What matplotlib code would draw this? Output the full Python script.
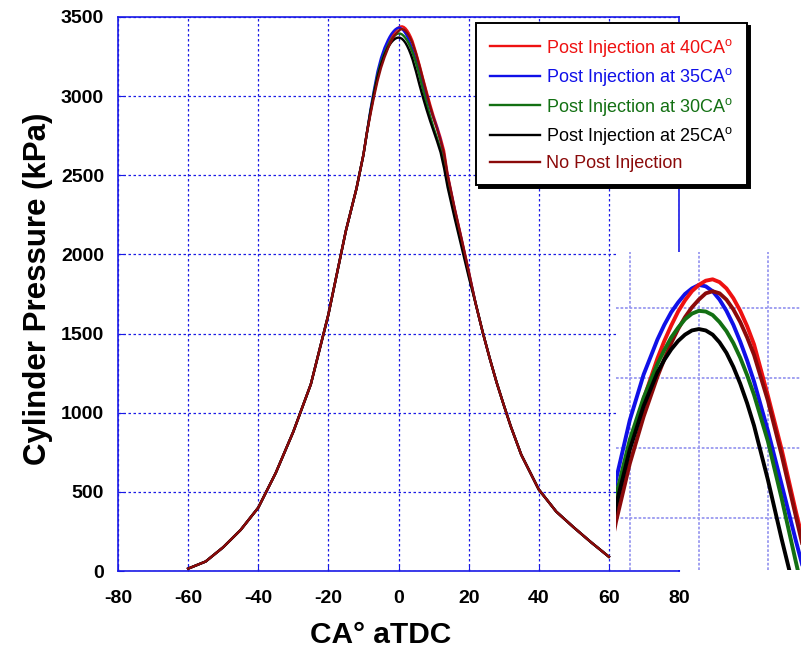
import matplotlib
matplotlib.use("Agg")
import matplotlib.pyplot as plt
import numpy as np

plt.rcParams["font.family"] = ["Liberation Sans", "DejaVu Sans"]
plt.rcParams["mathtext.fontset"] = "custom"
plt.rcParams["mathtext.rm"] = "Liberation Sans"
plt.rcParams["mathtext.it"] = "Liberation Sans"
plt.rcParams["axes.unicode_minus"] = False

# crank angle (deg aTDC) - compression side, common to all runs
ca_rise = [-60, -55, -50, -45, -40, -35, -30, -25, -20, -15, -12, -10, -9]
p_rise = [15, 60, 150, 260, 400, 620, 880, 1180, 1620, 2150, 2415, 2630, 2770]

# around the peak, where the runs separate
ca_peak = [-8, -7, -6, -5, -4, -3, -2.5, -2, -1.5, -1, -0.5, 0, 0.5, 1, 1.5, 2, 2.5, 3, 3.5, 4,
           5, 6, 7, 8, 9, 10, 11, 12, 13, 14, 16, 18, 20]
p_post40 = [2895, 3010, 3115, 3200, 3270, 3328, 3353, 3375, 3395, 3411, 3424, 3433, 3439, 3441,
            3437, 3428, 3414, 3396, 3374, 3348, 3275, 3198, 3112, 3030, 2950, 2875, 2808, 2738,
            2655, 2510, 2295, 2100, 1900]
p_post35 = [2915, 3040, 3155, 3240, 3305, 3355, 3376, 3394, 3408, 3420, 3428, 3433, 3431, 3424,
            3412, 3396, 3376, 3352, 3325, 3295, 3225, 3148, 3070, 2995, 2925, 2862, 2800, 2720,
            2620, 2495, 2285, 2090, 1890]
p_post30 = [2905, 3025, 3132, 3212, 3272, 3320, 3340, 3358, 3372, 3384, 3392, 3396, 3395, 3390,
            3380, 3367, 3350, 3329, 3304, 3276, 3210, 3128, 3040, 2955, 2875, 2800, 2735, 2665,
            2580, 2460, 2260, 2070, 1875]
p_post25 = [2900, 3015, 3118, 3198, 3260, 3308, 3326, 3341, 3353, 3362, 3368, 3370, 3368, 3362,
            3351, 3336, 3316, 3292, 3264, 3232, 3155, 3070, 2990, 2915, 2845, 2780, 2715, 2645,
            2545, 2425, 2230, 2045, 1860]
p_nopost = [2885, 2995, 3095, 3178, 3245, 3302, 3327, 3350, 3370, 3387, 3401, 3412, 3421, 3424,
            3421, 3412, 3398, 3380, 3358, 3333, 3268, 3190, 3105, 3020, 2935, 2860, 2792, 2718,
            2635, 2500, 2290, 2095, 1895]

# expansion side, common to all runs
ca_fall = [22, 24, 26, 28, 30, 32, 35, 40, 45, 50, 55, 60]
p_fall = [1690, 1510, 1345, 1190, 1050, 915, 735, 515, 375, 275, 180, 90]

labels = ["Post Injection at 40CA$^{\\mathrm{o}}$", "Post Injection at 35CA$^{\\mathrm{o}}$",
          "Post Injection at 30CA$^{\\mathrm{o}}$", "Post Injection at 25CA$^{\\mathrm{o}}$",
          "No Post Injection"]
colors = ["#ee1111", "#1010e8", "#137013", "#000000", "#8b0a0a"]
peaks = [p_post40, p_post35, p_post30, p_post25, p_nopost]

ca_all = np.array(ca_rise + ca_peak + ca_fall)
series = [np.array(p_rise + pk + p_fall) for pk in peaks]

fig = plt.figure(figsize=(8.01, 6.58), dpi=100)
ax = fig.add_axes([118 / 801, 1 - 571 / 658, 561 / 801, 554 / 658])

blue = "#1a1ae6"
for i in range(5):
    ax.plot(ca_all, series[i], color=colors[i], lw=1.7, label=labels[i], zorder=3)

ax.set_xlim(-80, 80)
ax.set_ylim(0, 3500)
ax.set_xticks(np.arange(-80, 81, 20))
ax.set_yticks(np.arange(0, 3501, 500))
ax.grid(True, color=blue, linestyle=(0, (2, 2)), lw=0.9)
for s in ax.spines.values():
    s.set_color(blue)
    s.set_linewidth(1.2)
ax.tick_params(direction="in", length=4, color=blue, labelsize=14)
ax.tick_params(axis="x", pad=14)
ax.tick_params(axis="y", pad=10)
for t in ax.get_xticklabels() + ax.get_yticklabels():
    t.set_fontweight("bold")
ax.set_xlabel("CA° aTDC", fontsize=21.5, fontweight="bold")
ax.xaxis.set_label_coords((381 - 118) / 561, -(621 - 571) / 554)
ax.set_ylabel("Cylinder Pressure (kPa)", fontsize=22.5, fontweight="bold")
ax.yaxis.set_label_coords(-(118 - 53) / 561, (571 - 289) / 554)

leg = fig.legend(loc="upper left", bbox_to_anchor=(476 / 801, 1 - 23 / 658),
                 borderaxespad=0, fontsize=13, labelcolor="linecolor",
                 handlelength=2.8, handletextpad=0.35, labelspacing=0.42,
                 borderpad=0.75, fancybox=False, framealpha=1,
                 edgecolor="black", shadow={"color": "black", "alpha": 1})
leg.get_frame().set_linewidth(1.4)

# zoomed view of the peak
ins = fig.add_axes([616 / 801, 1 - 570 / 658, 185 / 801, 318 / 658])
ins.set_facecolor("white")
for i in [1, 0, 4, 2, 3]:
    ins.plot(ca_all, series[i], color=colors[i], lw=2.8, zorder=3)
ins.set_xlim(-6.0, 7.4)
ins.set_ylim(3026, 3480)
ins.set_xticks([-5, 0, 5])
ins.set_yticks([3100, 3200, 3300, 3400])
ins.grid(True, color="#9a9af0", lw=1.3, linestyle=(0, (1.5, 1)))
ins.tick_params(length=0, labelbottom=False, labelleft=False)
for s in ins.spines.values():
    s.set_visible(False)

fig.savefig("out.png", dpi=100, facecolor="white")
